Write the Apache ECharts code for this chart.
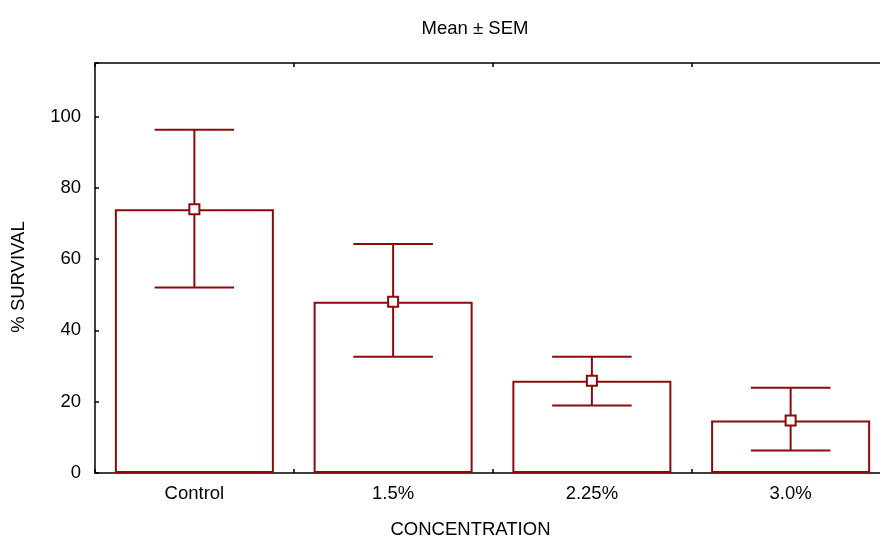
<!DOCTYPE html>
<html><head><meta charset="utf-8">
<script src="https://cdn.jsdelivr.net/npm/echarts@6/dist/echarts.min.js"></script>
<style>html,body{margin:0;padding:0;background:#fff}#c{width:880px;height:538px}</style>
</head><body><div id="c"></div>
<script>
const categories = ['Control', '1.5%', '2.25%', '3.0%'];
const means = [74.0, 48.0, 25.9, 14.7];
const upper = [96.3, 64.2, 32.6, 23.9];
const lower = [52.0, 32.6, 18.9, 6.3];
const yTicks = [0, 20, 40, 60, 80, 100];

const red = '#8b0a0a';
const font = 'Liberation Sans, Arial, sans-serif';
const fs = 18.5;
const chart = echarts.init(document.getElementById('c'));
chart.setOption({
  animation: false,
  backgroundColor: '#fff',
  title: {text: 'Mean ± SEM', left: 470, top: 14, textAlign: 'center',
    textStyle: {fontFamily: font, fontSize: fs, fontWeight: 'normal', color: '#000'}},
  grid: {left: 95, top: 63, width: 795, height: 410, containLabel: false, outerBoundsMode: 'none'},
  xAxis: [{
    type: 'category', data: categories, position: 'bottom',
    name: 'CONCENTRATION', nameLocation: 'middle', nameGap: 47,
    nameTextStyle: {fontFamily: font, fontSize: fs, color: '#000', padding: [0, 0, 0, -44]},
    axisLine: {lineStyle: {color: '#000', width: 1.5}},
    axisTick: {show: true, inside: true, length: 4, interval: 0, lineStyle: {color: '#000', width: 1.5}},
    axisLabel: {fontFamily: font, fontSize: fs, color: '#000', margin: 11}
  }, {
    type: 'category', data: categories, position: 'top',
    axisLine: {lineStyle: {color: '#000', width: 1.5}},
    axisTick: {show: true, inside: true, length: 4, interval: 0, lineStyle: {color: '#000', width: 1.5}},
    axisLabel: {show: false}
  }],
  yAxis: {
    type: 'value', min: 0, max: 115, interval: 20,
    name: '% SURVIVAL', nameLocation: 'middle', nameGap: 67, nameRotate: 90,
    nameTextStyle: {fontFamily: font, fontSize: fs, color: '#000', padding: [0, 0, 0, -18]},
    axisLine: {show: true, lineStyle: {color: '#000', width: 1.5}},
    axisTick: {show: true, inside: true, length: 4, lineStyle: {color: '#000', width: 1.5}},
    splitLine: {show: false},
    axisLabel: {fontFamily: font, fontSize: fs, color: '#000', margin: 14,
      formatter: v => yTicks.indexOf(v) >= 0 ? String(v) : ''}
  },
  series: [{
    type: 'bar', data: means, barWidth: '80%', xAxisIndex: 0,
    itemStyle: {color: '#fff', borderColor: red, borderWidth: 2},
    z: 2
  }, {
    type: 'custom', xAxisIndex: 0, z: 3,
    data: categories.map((c, i) => [i, lower[i], upper[i]]),
    renderItem: function (params, api) {
      const x = api.value(0);
      const lo = api.coord([x, api.value(1)]);
      const hi = api.coord([x, api.value(2)]);
      const half = api.size([1, 0])[0] * 0.2;
      const st = {stroke: red, lineWidth: 2};
      return {type: 'group', children: [
        {type: 'line', shape: {x1: lo[0], y1: lo[1], x2: hi[0], y2: hi[1]}, style: st},
        {type: 'line', shape: {x1: hi[0] - half, y1: hi[1], x2: hi[0] + half, y2: hi[1]}, style: st},
        {type: 'line', shape: {x1: lo[0] - half, y1: lo[1], x2: lo[0] + half, y2: lo[1]}, style: st}
      ]};
    }
  }, {
    type: 'scatter', data: means, xAxisIndex: 0, z: 4,
    symbol: 'rect', symbolSize: 10,
    itemStyle: {color: '#fff', borderColor: red, borderWidth: 2, opacity: 1}
  }]
});
</script></body></html>
